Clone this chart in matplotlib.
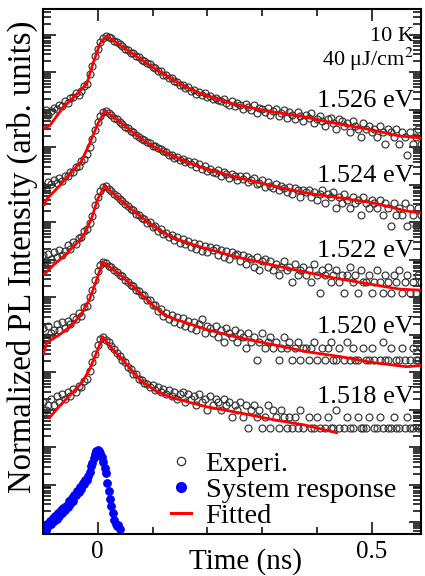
import matplotlib
matplotlib.use("Agg")
import matplotlib.pyplot as plt
import numpy as np
from matplotlib.lines import Line2D
from matplotlib.ticker import LogLocator, MultipleLocator, NullFormatter, FormatStrFormatter

plt.rcParams["font.family"] = ["Liberation Serif", "DejaVu Serif"]
plt.rcParams["mathtext.fontset"] = "stix"

# time bins of the streak / TCSPC trace (ns)
T_START = -0.10
T_STEP = 0.005

LABELS = ["1.526 eV", "1.524 eV", "1.522 eV", "1.520 eV", "1.518 eV"]
# vertical stacking of the normalized traces (decades)
OFFSET_DECADES = [10.97, 8.97, 6.97, 4.95, 2.95]

# raw counts per time bin
counts_1526 = [
    13, 16, 12, 15, 18, 17, 22, 20, 27, 25, 33, 36, 44, 40, 51, 70, 80,
    145, 230, 430, 660, 1020, 1350, 1500,
    1420, 1290, 1120, 1030, 890, 810, 690, 640, 540, 510, 430, 400, 345, 320, 280, 262, 220,
    208, 175, 170, 140, 135, 112, 110, 92, 90, 76, 75, 62, 64, 52, 55, 43, 48, 39, 44, 35,
    38, 31, 33, 29, 27, 32, 24, 22, 28, 20,
    24, 21, 17, 23, 19, 16, 21, 13, 18, 17,
    14, 18, 12, 15, 17, 11, 13, 16, 10, 14,
    12, 9, 14, 11, 8, 12, 10, 13, 7, 9,
    11, 8, 6, 9, 10, 7, 5, 9, 8, 6,
    7, 4, 8, 6, 5, 3, 7, 5, 6, 4,
    5, 3, 6, 4, 2, 5, 4, 3, 5, 2,
    4, 3, 1, 4, 2, 3, 5, 2,
]
counts_1524 = [
    12, 10, 15, 13, 17, 14, 19, 16, 22, 21, 28, 27, 38, 40, 55, 62, 85, 128, 215, 365,
    590, 850, 1100, 1170,
    1010, 900, 760, 700, 590, 530, 445, 400, 345, 315, 262, 240, 205, 198, 170, 165, 140,
    138, 118, 115, 98, 96, 80, 79, 66, 70, 58,
    61, 50, 54, 44, 50, 38, 44, 33, 39, 30,
    34, 28, 26, 31, 22, 27, 24, 19, 25, 21, 17, 22,
    18, 21, 15, 17, 19, 13, 14, 17, 11, 15, 12, 10,
    13, 9, 12, 10, 8, 11, 7, 10, 9, 6, 9, 8,
    9, 6, 8, 5, 7, 9, 4, 7, 6, 8, 3, 6,
    4, 7, 5, 3, 6, 4, 5, 2, 6, 4, 3, 5,
    4, 3, 5, 2, 4, 3, 1, 4, 2, 3, 2, 4, 1, 3, 2, 1, 3, 2,
]
counts_1522 = [
    10, 7, 11, 8, 12, 9, 14, 10, 13, 19, 15, 23, 20, 29, 30, 44, 50, 75, 112, 220,
    350, 530, 660, 710,
    600, 530, 440, 390, 310, 280, 230, 212, 170, 160, 128, 122, 98, 95, 75, 78, 58, 60,
    46, 50, 37, 40, 31, 35, 25, 30, 22, 27, 20,
    24, 17, 22, 15, 20, 13, 18, 12, 17, 14,
    16, 10, 14, 9, 13, 8, 12, 10,
    11, 7, 10, 6, 9, 8, 5, 9, 4, 7, 8, 5,
    7, 4, 6, 3, 5, 7, 4, 5, 2, 6, 3, 4,
    5, 3, 4, 2, 6, 3, 1, 4, 3, 5, 2, 3,
    4, 2, 3, 1, 3, 5, 2, 3, 1, 4, 2, 2,
    3, 1, 2, 4, 2, 1, 3, 2, 1, 3, 2, 4, 1, 2, 3, 1, 2, 1, 3, 2,
]
counts_1520 = [
    7, 4, 8, 5, 6, 9, 6, 10, 7, 11, 9, 14, 12, 18, 15, 25, 27, 48, 70, 135,
    225, 345, 410,
    370, 320, 290, 240, 220, 180, 168, 135, 120, 98, 92, 72, 68, 53, 52, 38, 40, 28, 29, 20,
    23, 15, 18, 12, 16, 10, 14, 9, 13, 8,
    11, 7, 10, 6, 9, 12, 5, 8,
    7, 5, 8, 4, 6, 3, 7, 5, 4, 6, 3, 5,
    4, 2, 5, 3, 4, 1, 3, 5, 2, 3, 4, 2,
    3, 1, 2, 4, 2, 3, 1, 2, 3, 1, 2, 2,
    1, 2, 3, 1, 0, 2, 1, 2, 3, 1, 1, 2, 0, 1, 3, 1, 2, 1, 1, 0,
    2, 1, 1, 2, 1, 0, 1, 3, 1, 1, 2, 0, 1, 1, 2, 1, 0, 1, 2, 1, 1, 2,
]
counts_1518 = [
    5, 3, 4, 6, 4, 7, 5, 8, 6, 9, 7, 11, 9, 13, 12, 18, 20, 33, 56, 92,
    165, 238, 270,
    225, 190, 150, 125, 98, 84, 64, 56, 43, 38, 28, 27, 20, 19, 16, 15, 12, 14, 10, 12,
    9, 11, 8, 10, 7, 9, 6, 8,
    9, 5, 8, 6, 7, 4, 8, 5, 6, 3, 7, 4, 6, 5, 3, 6, 4, 5, 2, 4,
    3, 5, 2, 4, 1, 3, 4, 2, 3, 1, 2, 4, 1, 3, 2, 1, 3, 2, 1, 2,
    1, 2, 1, 3, 1, 0, 2, 1, 1, 2, 1, 0, 1, 2, 1, 1, 3, 1, 0, 1,
    2, 1, 1, 0, 2, 1, 1, 1, 2, 0, 1, 1, 2, 1, 0, 1, 1, 2, 1, 1,
    0, 1, 2, 1, 1, 0, 1, 1,
]

# fitted curves: time (ns) and decades below the peak
fit_1526_t = [-0.097, -0.088, -0.064, -0.038, -0.020, -0.009, 0.004, 0.016, 0.030, 0.064,
              0.095, 0.126, 0.155, 0.186, 0.246, 0.308, 0.368, 0.429, 0.491, 0.551, 0.590]
fit_1526_d = [2.45, 2.40, 1.92, 1.55, 1.28, 0.75, 0.21, 0.00, 0.13, 0.48,
              0.78, 1.07, 1.32, 1.53, 1.81, 2.00, 2.13, 2.32, 2.48, 2.67, 2.72]
fit_1524_t = [-0.097, -0.093, -0.070, -0.046, -0.030, -0.015, 0.000, 0.013, 0.030, 0.045, 0.077,
              0.105, 0.137, 0.165, 0.199, 0.259, 0.319, 0.381, 0.442, 0.502, 0.564, 0.590]
fit_1524_d = [2.50, 2.35, 2.00, 1.60, 1.35, 0.88, 0.35, 0.00, 0.17, 0.35, 0.72,
              0.98, 1.20, 1.38, 1.55, 1.79, 2.00, 2.19, 2.32, 2.45, 2.67, 2.72]
fit_1522_t = [-0.097, -0.080, -0.060, -0.040, -0.025, -0.012, 0.000, 0.013, 0.030, 0.045, 0.064,
              0.090, 0.115, 0.137, 0.160, 0.186, 0.210, 0.250, 0.310, 0.370, 0.430, 0.490,
              0.550, 0.590]
fit_1522_d = [2.35, 2.10, 1.85, 1.55, 1.30, 0.90, 0.35, 0.00, 0.22, 0.42, 0.65,
              0.95, 1.20, 1.38, 1.50, 1.62, 1.72, 1.88, 2.08, 2.27, 2.45, 2.60,
              2.75, 2.78]
fit_1520_t = [-0.099, -0.093, -0.070, -0.046, -0.030, -0.015, 0.000, 0.009, 0.025, 0.045, 0.077,
              0.100, 0.120, 0.137, 0.160, 0.199, 0.259, 0.319, 0.381, 0.442, 0.502, 0.564, 0.590]
fit_1520_d = [2.45, 2.16, 1.95, 1.68, 1.40, 1.01, 0.40, 0.00, 0.17, 0.40, 0.83,
              1.15, 1.40, 1.52, 1.62, 1.81, 2.03, 2.21, 2.40, 2.53, 2.69, 2.80, 2.77]
fit_1518_t = [-0.088, -0.070, -0.046, -0.030, -0.015, 0.000, 0.009, 0.025, 0.045, 0.077,
              0.108, 0.137, 0.170, 0.199, 0.259, 0.319, 0.376, 0.436]
fit_1518_d = [2.16, 1.85, 1.49, 1.25, 0.88, 0.35, 0.00, 0.30, 0.61, 1.15,
              1.47, 1.63, 1.76, 1.87, 2.03, 2.21, 2.35, 2.56]

# instrument (system) response, decades below its peak
SYS_T_START = -0.10
SYS_T_STEP = 0.0025
SYS_OFFSET = -0.06
sys_d = [
    2.22, 2.10, 2.15, 1.98, 2.05, 1.90, 1.98, 1.82, 1.90, 1.78,
    1.84, 1.70, 1.76, 1.62, 1.68, 1.55, 1.60, 1.50, 1.52, 1.38,
    1.45, 1.30, 1.36, 1.20, 1.22, 1.10, 1.12, 1.00, 1.04, 0.90,
    0.92, 0.80, 0.82, 0.70, 0.60, 0.45, 0.36, 0.22, 0.12, 0.04,
    0.00, 0.03, 0.08, 0.20, 0.32, 0.48, 0.63, 0.88, 1.10, 1.32,
    1.50, 1.70, 1.88, 1.98, 2.05, 2.00, 2.12,
]

COUNTS = [counts_1526, counts_1524, counts_1522, counts_1520, counts_1518]
FITS = [(fit_1526_t, fit_1526_d), (fit_1524_t, fit_1524_d), (fit_1522_t, fit_1522_d),
        (fit_1520_t, fit_1520_d), (fit_1518_t, fit_1518_d)]
LABEL_Y = [0.813, 0.670, 0.528, 0.383, 0.250]


def main():
    fig = plt.figure(figsize=(4.25, 5.76), dpi=100)
    ax = fig.add_axes([0.101, 0.073, 0.8896, 0.9115])

    for counts, (ft, fd), off in zip(COUNTS, FITS, OFFSET_DECADES):
        c = np.asarray(counts, dtype=float)
        t = T_START + T_STEP * np.arange(len(c))
        keep = c > 0
        y = c / c.max() * 10.0 ** off
        ax.plot(t[keep], y[keep], "o", ms=5, mfc="none", mec="#333333", mew=0.85, zorder=2)
        ax.plot(ft, 10.0 ** (off - np.asarray(fd)), color="red", lw=2.0, zorder=3)

    st = SYS_T_START + SYS_T_STEP * np.arange(len(sys_d))
    ax.plot(st, 10.0 ** (SYS_OFFSET - np.asarray(sys_d)), "o", ms=5.3, color="blue",
            mec="blue", zorder=2)

    ax.set_yscale("log")
    ax.set_xlim(-0.1, 0.59)
    ax.set_ylim(10 ** -2.31, 10 ** 11.69)

    ax.xaxis.set_major_locator(MultipleLocator(0.5))
    ax.xaxis.set_minor_locator(MultipleLocator(0.1))
    ax.xaxis.set_major_formatter(FormatStrFormatter("%g"))
    ax.yaxis.set_major_locator(LogLocator(base=10, numticks=30))
    ax.yaxis.set_minor_locator(LogLocator(base=10, subs=np.arange(2, 10), numticks=30))
    ax.yaxis.set_major_formatter(NullFormatter())
    ax.yaxis.set_minor_formatter(NullFormatter())
    ax.tick_params(which="both", direction="in", top=True, right=True, width=1.1)
    ax.tick_params(axis="x", which="major", length=8.5, labelsize=18, pad=5)
    ax.tick_params(axis="x", which="minor", length=5)
    ax.tick_params(axis="y", which="major", length=9)
    ax.tick_params(axis="y", which="minor", length=5.5)
    for s in ax.spines.values():
        s.set_linewidth(1.5)

    ax.set_xlabel("Time (ns)", fontsize=21)
    ax.xaxis.set_label_coords(0.537, -0.027)
    ax.set_ylabel("Normalized PL Intensity (arb. units)", fontsize=23.5)
    ax.yaxis.set_label_coords(-0.013, 0.528)

    for lab, ly in zip(LABELS, LABEL_Y):
        ax.text(0.981, ly, lab, transform=ax.transAxes, ha="right", va="baseline", fontsize=19)
    ax.text(0.981, 0.939, "10 K", transform=ax.transAxes, ha="right", va="baseline", fontsize=16)
    ax.text(0.981, 0.891, "40 \u03bcJ/cm$^{2}$", transform=ax.transAxes, ha="right",
            va="baseline", fontsize=16)

    handles = [
        Line2D([], [], ls="none", marker="o", ms=6, mfc="none", mec="#333333", mew=0.9),
        Line2D([], [], ls="none", marker="o", ms=7, color="blue"),
        Line2D([], [], color="red", lw=2.2),
    ]
    ax.legend(handles, ["Experi.", "System response", "Fitted"], loc="upper left",
              bbox_to_anchor=(0.34, 0.158), frameon=False, fontsize=20.5,
              handlelength=0.7, handletextpad=0.5, labelspacing=0.0, borderpad=0,
              borderaxespad=0)

    fig.savefig("out.png", dpi=100)
    plt.close(fig)


if __name__ == "__main__":
    main()
